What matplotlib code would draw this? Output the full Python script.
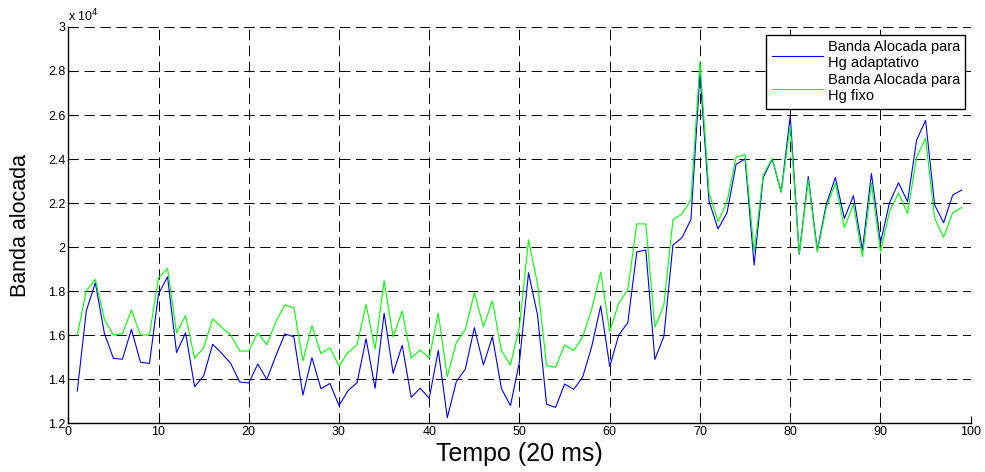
import matplotlib
matplotlib.use("Agg")
import matplotlib.pyplot as plt
from matplotlib.ticker import FuncFormatter, MultipleLocator

plt.rcParams['font.family'] = ['Liberation Sans', 'DejaVu Sans']
plt.rcParams['lines.scale_dashes'] = False

tempo = list(range(1, 100))

banda_adaptativo = [
    13450, 17100, 18380, 16080, 14940, 14900, 16260, 14760, 14710, 17860,
    18650, 15200, 16100, 13650, 14140, 15580, 15170, 14710, 13860, 13820,
    14680, 13980, 15050, 16050, 15920, 13270, 14970, 13560, 13800, 12790,
    13470, 13830, 15830, 13580, 16990, 14260, 15530, 13170, 13580, 13120,
    15300, 12240, 13880, 14450, 16330, 14640, 15920, 13560, 12790, 14790,
    18830, 16910, 12850, 12710, 13770, 13530, 14080, 15470, 17320, 14570,
    16000, 16560, 19780, 19860, 14890, 15940, 20090, 20420, 21250, 27900,
    22090, 20820, 21560, 23760, 24000, 19180, 23150, 24000, 22500, 25950,
    19670, 23200, 19860, 21950, 23160, 21300, 22330, 19860, 23340, 20190,
    22010, 22920, 22060, 24850, 25760, 21910, 21100, 22360, 22590,
]

banda_fixo = [
    16000, 18010, 18530, 16710, 16000, 16060, 17140, 16000, 16000, 18600,
    19030, 16100, 16880, 14940, 15420, 16730, 16350, 16000, 15270, 15270,
    16100, 15550, 16600, 17360, 17240, 14830, 16420, 15150, 15420, 14590,
    15210, 15550, 17390, 15360, 18470, 15920, 17090, 14950, 15320, 14960,
    16990, 14100, 15650, 16260, 17920, 16380, 17550, 15290, 14640, 16400,
    20320, 18320, 14610, 14530, 15550, 15290, 15920, 17170, 18860, 16150,
    17450, 18060, 21050, 21050, 16360, 17360, 21230, 21500, 22140, 28430,
    22470, 21150, 22060, 24080, 24200, 19780, 23260, 24030, 22500, 25500,
    19700, 23050, 19780, 21800, 22900, 20880, 21940, 19560, 22900, 19780,
    21610, 22450, 21530, 24080, 24940, 21300, 20450, 21560, 21790,
]

labels = ['Banda Alocada para\nHg adaptativo', 'Banda Alocada para\nHg fixo']

fig = plt.figure(figsize=(9.85, 4.72), dpi=100)
ax = fig.add_axes([0.0693, 0.1038, 0.9162, 0.8390])

ax.plot(tempo, banda_adaptativo, color=(0, 0, 1), lw=0.8, label=labels[0])
ax.plot(tempo, banda_fixo, color=(0, 1, 0), lw=0.8, label=labels[1])

ax.set_xlim(0, 100)
ax.set_ylim(12000, 30000)
ax.xaxis.set_major_locator(MultipleLocator(10))
ax.yaxis.set_major_locator(MultipleLocator(2000))
ax.yaxis.set_major_formatter(FuncFormatter(lambda v, p: '%g' % round(v / 1e4, 2)))

ax.grid(True, color='black', linestyle=(0, (7.5, 4)), linewidth=0.7)
ax.set_axisbelow(True)
for s in ['top', 'right']:
    ax.spines[s].set_visible(False)
for s in ['left', 'bottom']:
    ax.spines[s].set_linewidth(1.0)
ax.tick_params(direction='in', length=5, width=0.8, labelsize=9, pad=2)

ax.text(0.0, 1.008, r'x 10$^4$', transform=ax.transAxes, ha='left', va='bottom', fontsize=9)

ax.set_xlabel('Tempo (20 ms)', fontsize=18, labelpad=3)
ax.set_ylabel('Banda alocada', fontsize=15.5, labelpad=12)

leg = ax.legend(loc='upper right', bbox_to_anchor=(0.9937, 0.9798), fontsize=10.5,
                frameon=True, fancybox=False, framealpha=1, edgecolor='black',
                handlelength=3.5, borderpad=0.35, labelspacing=0.2, handletextpad=0.35,
                borderaxespad=0)
leg.get_frame().set_linewidth(1.0)
for t in leg.get_texts():
    t.set_linespacing(1.2)

fig.savefig('out.png', dpi=100)
